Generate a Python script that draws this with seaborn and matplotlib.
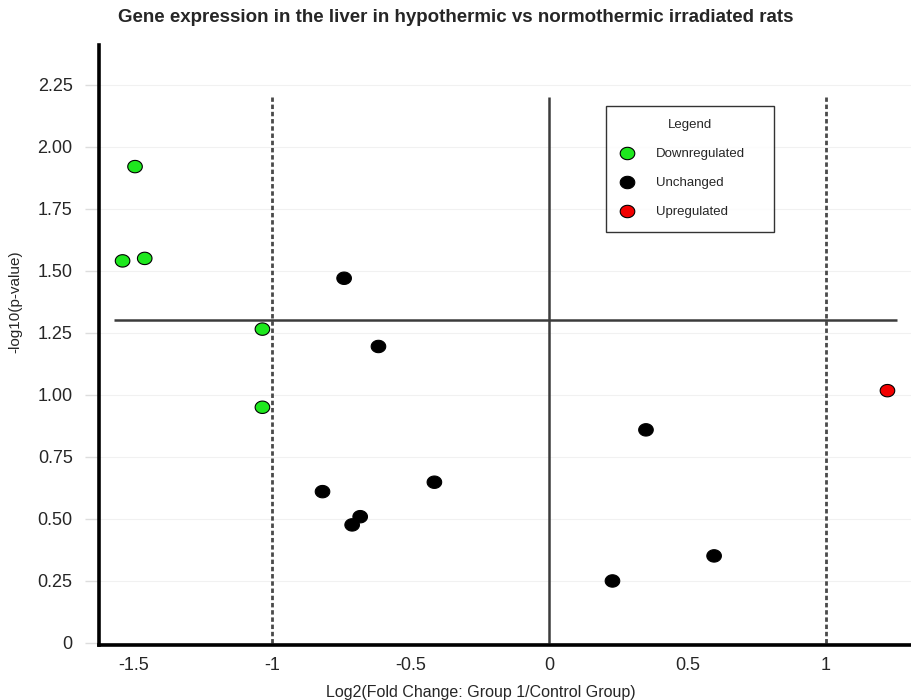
import numpy as np
import pandas as pd
import matplotlib
matplotlib.use('Agg')
import matplotlib.pyplot as plt
import seaborn as sns
from matplotlib.path import Path
from matplotlib.lines import Line2D

# values (log2 fold change, -log10 p)
down_fc = [-1.495, -1.54, -1.46, -1.035, -1.035]
down_p = [1.92, 1.54, 1.55, 1.265, 0.95]
unch_fc = [-0.74, -0.616, -0.818, -0.414, -0.682, -0.711, 0.350, 0.229, 0.596]
unch_p = [1.47, 1.195, 0.61, 0.648, 0.509, 0.476, 0.859, 0.25, 0.351]
up_fc = [1.222]
up_p = [1.017]

groups = ['Downregulated', 'Unchanged', 'Upregulated']
colors = ['#1ee81e', '#000000', '#f20000']

fc_cut = [-1, 1]
p_cut = 1.30

xticks = [-1.5, -1, -0.5, 0, 0.5, 1]
xtick_labels = ['-1.5', '-1', '-0.5', '0', '0.5', '1']
yticks = [0, 0.25, 0.5, 0.75, 1.0, 1.25, 1.5, 1.75, 2.0, 2.25]
ytick_labels = ['0', '0.25', '0.50', '0.75', '1.00', '1.25', '1.50', '1.75', '2.00', '2.25']

df = pd.concat([
    pd.DataFrame({'fc': down_fc, 'p': down_p, 'grp': groups[0]}),
    pd.DataFrame({'fc': unch_fc, 'p': unch_p, 'grp': groups[1]}),
    pd.DataFrame({'fc': up_fc, 'p': up_p, 'grp': groups[2]}),
])

sns.set_style('white')
plt.rcParams['font.family'] = ['Liberation Sans', 'DejaVu Sans']

# slightly flattened dot, like the original
t = np.linspace(0, 2 * np.pi, 64)
ell = Path(np.column_stack([np.cos(t), 0.85 * np.sin(t)]), closed=True)

fig = plt.figure(figsize=(9.11, 7.0), dpi=100)
ax = fig.add_axes([0.1087, 0.0786, 0.8913, 0.8571])

ax.set_axisbelow(True)
ax.yaxis.grid(True, color='#f1f1f1', linewidth=0.8)

# threshold lines
line_top = 2.2
h_from, h_to = -1.57, 1.256
ax.vlines(fc_cut, 0, line_top, colors='#4a4a4a', linestyles=(0, (1.6, 1.0)), linewidth=2.0, zorder=1)
ax.vlines(0, 0, line_top, colors='#3c3c3c', linewidth=1.8, zorder=1)
ax.hlines(p_cut, h_from, h_to, colors='#3c3c3c', linewidth=1.8, zorder=1)

sns.scatterplot(data=df, x='fc', y='p', hue='grp', hue_order=groups,
                palette=colors, marker=ell, s=110, edgecolor='black',
                linewidth=0.8, legend=False, ax=ax, zorder=3)

ax.set_xlim(-1.625, 1.307)
ax.set_ylim(-0.008, 2.41)
ax.set_xticks(xticks)
ax.set_xticklabels(xtick_labels)
ax.set_yticks(yticks)
ax.set_yticklabels(ytick_labels)
ax.tick_params(axis='y', length=10, color='#dddddd', width=1, pad=9, labelsize=13, left=True)
ax.tick_params(axis='x', length=0, pad=9, labelsize=13)

sns.despine(ax=ax)
for s in ['left', 'bottom']:
    ax.spines[s].set_linewidth(2.6)
    ax.spines[s].set_color('black')

ax.set_xlabel('Log2(Fold Change: Group 1/Control Group)', fontsize=11.5)
ax.xaxis.set_label_coords(0.47, -0.066)
ax.set_ylabel('-log10(p-value)', fontsize=11)
ax.yaxis.set_label_coords(-0.094, 0.572)

fig.text(0.5, 1 - 18 / 700, 'Gene expression in the liver in hypothermic vs normothermic irradiated rats',
         ha='center', va='center', fontsize=13.5, fontweight='bold')

handles = [Line2D([], [], marker=ell, linestyle='none', markersize=10.5,
                  markerfacecolor=c, markeredgecolor='black', markeredgewidth=0.8)
           for c in colors]
leg = ax.legend(handles, groups, title='Legend', loc='upper left',
                bbox_to_anchor=(0.624, 0.0, 0.207, 0.898), mode='expand',
                frameon=True, fancybox=False,
                edgecolor='black', fontsize=9.5, title_fontsize=9.5,
                labelspacing=1.27, handlelength=1.2, handletextpad=1.6,
                borderpad=1.0, borderaxespad=0)
leg.get_frame().set_linewidth(1)

plt.savefig('out.png', dpi=100)
